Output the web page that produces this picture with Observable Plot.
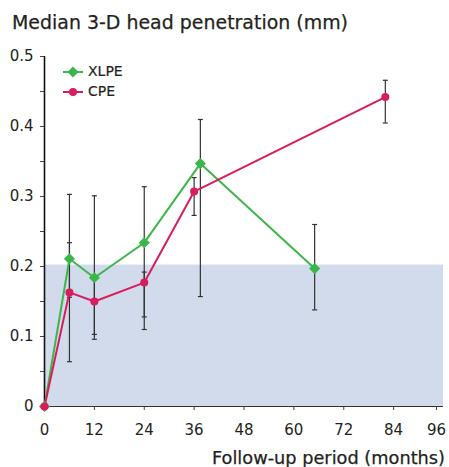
<!DOCTYPE html>
<html><head><meta charset="utf-8">
<script src="https://cdn.jsdelivr.net/npm/d3@7"></script>
<script src="https://cdn.jsdelivr.net/npm/@observablehq/plot@0.6"></script>
<style>
body{margin:0;background:#fff;font-family:"DejaVu Sans",sans-serif;color:#231f20;}
#wrap{position:relative;width:449px;height:467px;overflow:hidden;}
#chart{position:absolute;left:0;top:0;}
#overlay{position:absolute;left:0;top:0;pointer-events:none;}
</style></head><body>
<div id="wrap">
<div id="chart"></div>
<svg id="overlay" width="449" height="467" font-family="DejaVu Sans, sans-serif" fill="#231f20">
  <text x="12" y="29" font-size="20" textLength="336" lengthAdjust="spacingAndGlyphs" stroke="#231f20" stroke-width="0.25">Median 3-D head penetration (mm)</text>
  <text x="445" y="464" font-size="18" text-anchor="end" textLength="233" lengthAdjust="spacingAndGlyphs" stroke="#231f20" stroke-width="0.25">Follow-up period (months)</text>
  <line x1="63" x2="83" y1="72" y2="72" stroke="#3cb54a" stroke-width="2"/>
  <path d="M73,66.5L78.5,72L73,77.5L67.5,72Z" fill="#3cb54a"/>
  <text x="88" y="72" font-size="14" dominant-baseline="middle" stroke="#231f20" stroke-width="0.2">XLPE</text>
  <line x1="63" x2="83" y1="92" y2="92" stroke="#d91c5c" stroke-width="2"/>
  <circle cx="73" cy="92" r="4" fill="#d91c5c"/>
  <text x="88" y="92" font-size="14" dominant-baseline="middle" stroke="#231f20" stroke-width="0.2">CPE</text>
</svg>
</div>
<script>
// ---- data ----
const xlpeMonths = [0, 6, 12, 24, 37.5, 65];
const xlpeMedian = [0, 0.211, 0.184, 0.234, 0.347, 0.197];
const xlpeLow    = [null, 0.156, 0.103, 0.128, 0.157, 0.138];
const xlpeHigh   = [null, 0.303, 0.301, 0.314, 0.410, 0.260];

const cpeMonths = [0, 6, 12, 24, 36, 82];
const cpeMedian = [0, 0.163, 0.150, 0.177, 0.307, 0.442];
const cpeLow    = [null, 0.064, 0.096, 0.110, 0.273, 0.405];
const cpeHigh   = [null, 0.234, 0.185, 0.192, 0.327, 0.466];

const bandMonths = [0, 96];
const bandTop = 0.202;

const xTicks = [0, 12, 24, 36, 48, 60, 72, 84];
const xLastTick = [96];
const yTicks = [0, 0.1, 0.2, 0.3, 0.4, 0.5];
const yMinorTicks = [0.05, 0.15, 0.25, 0.35, 0.45];

// ---- build tables ----
const toRows = (m, med, lo, hi) => m.map((x, i) => ({x, y: med[i], lo: lo[i], hi: hi[i]}));
const xlpe = toRows(xlpeMonths, xlpeMedian, xlpeLow, xlpeHigh);
const cpe = toRows(cpeMonths, cpeMedian, cpeLow, cpeHigh);
const xlpeBars = xlpe.filter(d => d.lo != null);
const cpeBars = cpe.filter(d => d.lo != null);
const band = [{x1: bandMonths[0], x2: bandMonths[1], y: bandTop}];

const GREEN = "#3cb54a", RED = "#d91c5c", BAR = "#333";
const cap = {draw(ctx) { ctx.moveTo(-2.5, 0); ctx.lineTo(2.5, 0); }};

const chart = Plot.plot({
  width: 449, height: 467,
  marginLeft: 44, marginRight: 6, marginTop: 56, marginBottom: 61,
  style: {fontFamily: "DejaVu Sans, sans-serif", fontSize: "15px", color: "#231f20", background: "white"},
  x: {domain: [0, 96]},
  y: {domain: [0, 0.5]},
  marks: [
    Plot.rectY(band, {x1: "x1", x2: "x2", y: "y", fill: "#d1dbeb"}),
    Plot.axisX({ticks: xTicks, tickSize: 4, tickPadding: 14, label: null, stroke: "#444"}),
    Plot.axisX({ticks: xLastTick, tickSize: 4, tickPadding: 14, label: null, stroke: "#444", dx: -7}),
    Plot.axisY({ticks: yTicks, tickSize: 4, tickPadding: 7, label: null, stroke: "#444",
      tickFormat: d => d === 0 ? "0" : d.toFixed(1)}),
    Plot.axisY({ticks: yMinorTicks, tickSize: 4, tickFormat: () => "", label: null, stroke: "#444"}),
    Plot.ruleX([0], {stroke: "#111", strokeWidth: 1.6}),
    Plot.ruleY([0], {stroke: "#333", strokeWidth: 1}),
    Plot.ruleX(xlpeBars, {x: "x", y1: "lo", y2: "hi", stroke: BAR, strokeWidth: 1.2}),
    Plot.dot(xlpeBars, {x: "x", y: "lo", symbol: cap, stroke: BAR, strokeWidth: 1.2}),
    Plot.dot(xlpeBars, {x: "x", y: "hi", symbol: cap, stroke: BAR, strokeWidth: 1.2}),
    Plot.ruleX(cpeBars, {x: "x", y1: "lo", y2: "hi", stroke: BAR, strokeWidth: 1.2}),
    Plot.dot(cpeBars, {x: "x", y: "lo", symbol: cap, stroke: BAR, strokeWidth: 1.2}),
    Plot.dot(cpeBars, {x: "x", y: "hi", symbol: cap, stroke: BAR, strokeWidth: 1.2}),
    Plot.line(xlpe, {x: "x", y: "y", stroke: GREEN, strokeWidth: 2}),
    Plot.line(cpe, {x: "x", y: "y", stroke: RED, strokeWidth: 2}),
    Plot.dot(xlpe, {x: "x", y: "y", symbol: "diamond2", r: 5, fill: GREEN, stroke: "none"}),
    Plot.dot(cpe, {x: "x", y: "y", r: 4, fill: RED, stroke: "none"})
  ]
});
document.getElementById("chart").appendChild(chart);
</script>
</body></html>
